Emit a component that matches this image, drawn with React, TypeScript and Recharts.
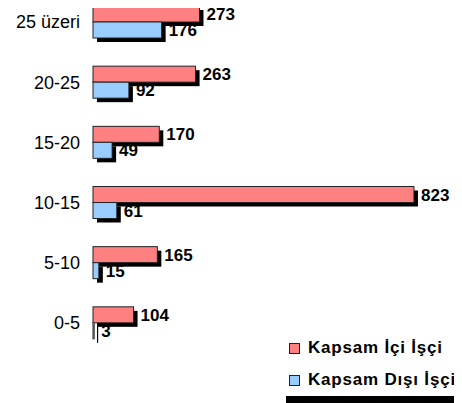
import { BarChart, Bar, XAxis, YAxis, LabelList, Legend } from "recharts";

const categories = ["25 üzeri", "20-25", "15-20", "10-15", "5-10", "0-5"];
const kapsamIci = [273, 263, 170, 823, 165, 104];
const kapsamDisi = [176, 92, 49, 61, 15, 3];
const seriesNames = ["Kapsam İçi İşçi", "Kapsam Dışı İşçi"];

const RED = "#FF8080";
const BLUE = "#99CCFF";
const FONT = "'Liberation Sans', Arial, sans-serif";

const data = categories.map((cat, i) => ({
  cat,
  ici: kapsamIci[i],
  disi: kapsamDisi[i],
}));

function ShadowBar(props: any) {
  const { x, y, width, height, fill } = props;
  if (width == null || height == null) return null;
  return (
    <g>
      <rect x={x + 4} y={y + 4} width={width} height={height} fill="#000" />
      <rect
        x={x}
        y={y}
        width={width}
        height={height}
        fill={fill}
        stroke="#222"
        strokeWidth={1}
      />
    </g>
  );
}

function LegendBox() {
  const items = [
    { name: seriesNames[0], color: RED, top: 4 },
    { name: seriesNames[1], color: BLUE, top: 36 },
  ];
  return (
    <div style={{ position: "relative", width: 176, height: 62, fontFamily: FONT }}>
      {items.map((it) => (
        <div
          key={it.name}
          style={{
            position: "absolute",
            left: 3,
            top: it.top,
            height: 22,
            display: "flex",
            alignItems: "center",
            whiteSpace: "nowrap",
          }}
        >
          <span
            style={{
              display: "inline-block",
              width: 9,
              height: 9,
              background: it.color,
              border: "1px solid #222",
              marginRight: 8,
            }}
          />
          <span
            style={{
              fontSize: 17,
              fontWeight: "bold",
              letterSpacing: 0.8,
              color: "#000",
            }}
          >
            {it.name}
          </span>
        </div>
      ))}
    </div>
  );
}

export default function App() {
  return (
    <div
      style={{
        position: "relative",
        width: 462,
        height: 403,
        margin: "-8px 0 0 -8px",
        overflow: "hidden",
        background: "#fff",
      }}
    >
      <div style={{ position: "absolute", left: 0, top: -8 }}>
        <BarChart
          width={462}
          height={411}
          data={data}
          layout="vertical"
          margin={{ top: 0, right: 18, bottom: 50, left: 0 }}
          barGap={0}
          barSize={16}
        >
          <XAxis type="number" domain={[0, 900]} hide />
          <YAxis
            type="category"
            dataKey="cat"
            width={93}
            axisLine={false}
            tickLine={false}
            tickSize={0}
            tickMargin={13}
            tick={{ fontSize: 18, fill: "#000", fontFamily: FONT }}
          />
          <Legend
            layout="horizontal"
            verticalAlign="middle"
            align="center"
            content={() => <LegendBox />}
            wrapperStyle={{ left: 286, top: 341, width: 176, height: 62 }}
          />
          <Bar
            dataKey="ici"
            name={seriesNames[0]}
            fill={RED}
            shape={ShadowBar}
            isAnimationActive={false}
          >
            <LabelList
              dataKey="ici"
              position="right"
              offset={7}
              style={{ fontSize: 17, fontWeight: "bold", fill: "#000", fontFamily: FONT }}
            />
          </Bar>
          <Bar
            dataKey="disi"
            name={seriesNames[1]}
            fill={BLUE}
            shape={ShadowBar}
            isAnimationActive={false}
          >
            <LabelList
              dataKey="disi"
              position="right"
              offset={7}
              style={{ fontSize: 17, fontWeight: "bold", fill: "#000", fontFamily: FONT }}
            />
          </Bar>
        </BarChart>
      </div>
      <div
        style={{
          position: "absolute",
          left: 286,
          top: 396,
          width: 176,
          height: 7,
          background: "#000",
          zIndex: 5,
        }}
      />
    </div>
  );
}
